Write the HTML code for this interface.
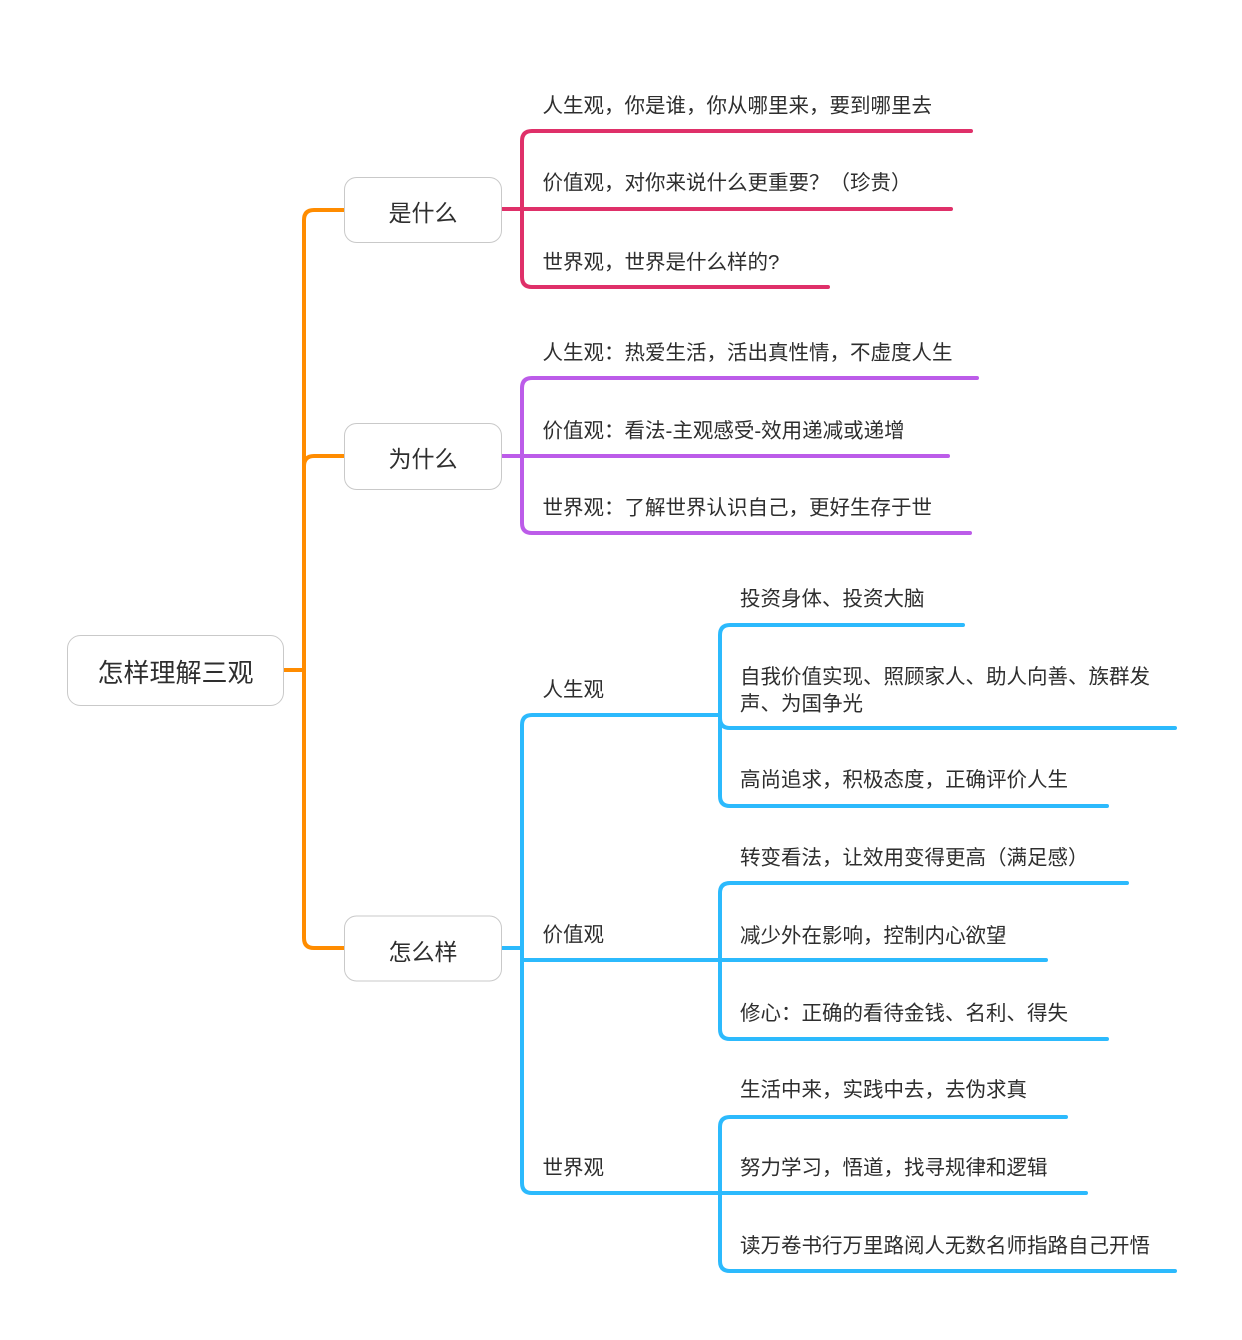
<!DOCTYPE html>
<html>
<head>
<meta charset="utf-8">
<style>
html,body{margin:0;padding:0;background:#fff;}
svg{display:block;}
text{font-family:"Liberation Sans","Noto Sans CJK SC",sans-serif;fill:#2e2e2e;}
.t{font-size:20.5px;}
</style>
</head>
<body>
<svg width="1242" height="1340" viewBox="0 0 1242 1340" xmlns="http://www.w3.org/2000/svg">
  <rect width="1242" height="1340" fill="#fff"/>

  <!-- Orange trunk -->
  <g fill="none" stroke="#FF8C00" stroke-width="4" stroke-linecap="round">
    <path d="M283,670 L304,670"/>
    <path d="M344,210 L314,210 Q304,210 304,220 L304,938 Q304,948 314,948 L344,948"/>
    <path d="M304,466 Q304,456 314,456 L344,456"/>
  </g>

  <!-- Pink branch -->
  <g fill="none" stroke="#DF3069" stroke-width="4" stroke-linecap="round">
    <path d="M502,209 L951,209"/>
    <path d="M971,131 L532,131 Q522,131 522,141 L522,277 Q522,287 532,287 L828,287"/>
  </g>

  <!-- Purple branch -->
  <g fill="none" stroke="#BC5CE9" stroke-width="4" stroke-linecap="round">
    <path d="M502,456 L948,456"/>
    <path d="M977,378 L532,378 Q522,378 522,388 L522,523 Q522,533 532,533 L970,533"/>
  </g>

  <!-- Blue branch -->
  <g fill="none" stroke="#2CBAFD" stroke-width="4" stroke-linecap="round">
    <path d="M501,948 L522,948"/>
    <path d="M719,715 L532,715 Q522,715 522,725 L522,1183 Q522,1193 532,1193 L1086,1193"/>
    <path d="M522,960 L1046,960"/>
    <!-- 人生观 children -->
    <path d="M963,625 L730,625 Q720,625 720,635 L720,796 Q720,806 730,806 L1107,806"/>
    <path d="M720,718 Q720,728 730,728 L1175,728"/>
    <!-- 价值观 children -->
    <path d="M1127,883 L730,883 Q720,883 720,893 L720,1029 Q720,1039 730,1039 L1107,1039"/>
    <!-- 世界观 children -->
    <path d="M1066,1117 L730,1117 Q720,1117 720,1127 L720,1261 Q720,1271 730,1271 L1175,1271"/>
  </g>

  <!-- Boxes -->
  <g fill="#fff" stroke="#c9c9c9" stroke-width="1">
    <rect x="67.5" y="635.5" width="216" height="70" rx="13"/>
    <rect x="344.5" y="177.5" width="157" height="65" rx="12"/>
    <rect x="344.5" y="423.5" width="157" height="66" rx="12"/>
    <rect x="344.5" y="916" width="157" height="65" rx="12"/>
  </g>

  <!-- Box labels -->
  <text x="175.5" y="682" font-size="26" text-anchor="middle">怎样理解三观</text>
  <text x="423" y="221" font-size="23" text-anchor="middle">是什么</text>
  <text x="423" y="467" font-size="23" text-anchor="middle">为什么</text>
  <text x="423" y="960" font-size="23" text-anchor="middle">怎么样</text>

  <!-- Pink texts -->
  <text class="t" x="542.5" y="112.5">人生观，你是谁，你从哪里来，要到哪里去</text>
  <text class="t" x="542.5" y="189.5">价值观，对你来说什么更重要？（珍贵）</text>
  <text class="t" x="542.5" y="269">世界观，世界是什么样的?</text>

  <!-- Purple texts -->
  <text class="t" x="542.5" y="359.5">人生观：热爱生活，活出真性情，不虚度人生</text>
  <text class="t" x="542.5" y="437.5">价值观：看法-主观感受-效用递减或递增</text>
  <text class="t" x="542.5" y="514.5">世界观：了解世界认识自己，更好生存于世</text>

  <!-- Blue level-1 labels -->
  <text class="t" x="542.5" y="696.5">人生观</text>
  <text class="t" x="542.5" y="941.5">价值观</text>
  <text class="t" x="542.5" y="1174.5">世界观</text>

  <!-- Blue level-2 texts -->
  <text class="t" x="740" y="605.5">投资身体、投资大脑</text>
  <text class="t" x="740" y="683.5">自我价值实现、照顾家人、助人向善、族群发</text>
  <text class="t" x="740" y="710.5">声、为国争光</text>
  <text class="t" x="740" y="786.5">高尚追求，积极态度，正确评价人生</text>

  <text class="t" x="740" y="864.5">转变看法，让效用变得更高（满足感）</text>
  <text class="t" x="740" y="942.5">减少外在影响，控制内心欲望</text>
  <text class="t" x="740" y="1020">修心：正确的看待金钱、名利、得失</text>

  <text class="t" x="740" y="1096.5">生活中来，实践中去，去伪求真</text>
  <text class="t" x="740" y="1174.5">努力学习，悟道，找寻规律和逻辑</text>
  <text class="t" x="740" y="1252.5">读万卷书行万里路阅人无数名师指路自己开悟</text>
</svg>
</body>
</html>
